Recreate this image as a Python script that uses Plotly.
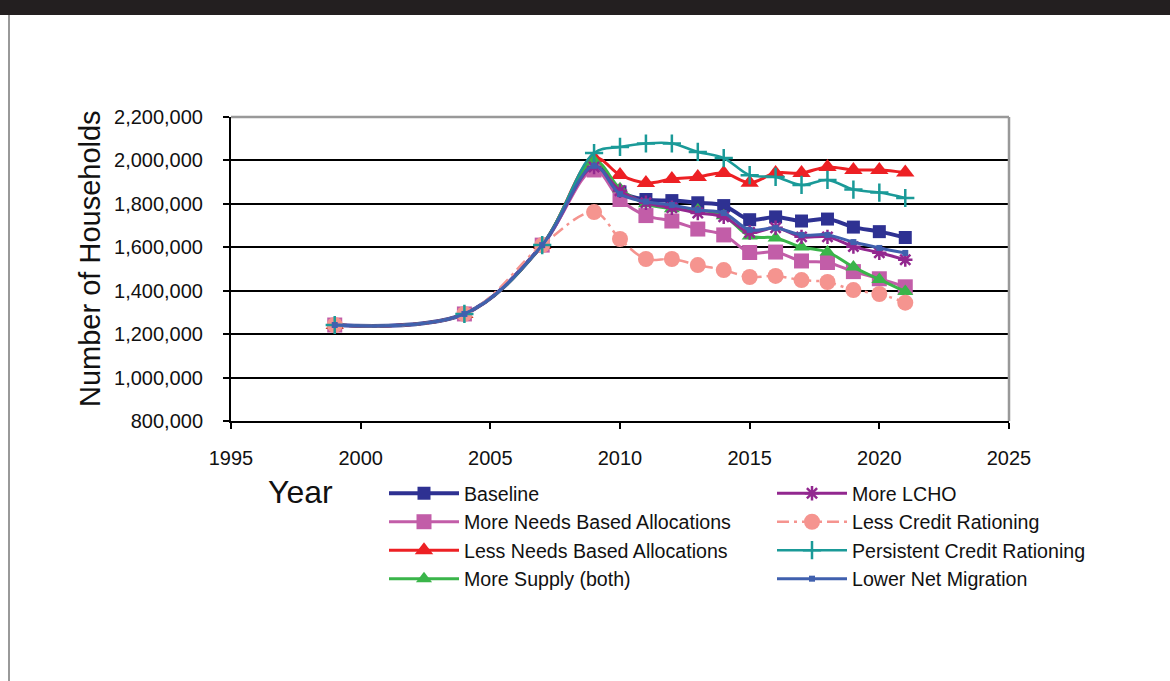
import plotly.graph_objects as go

years = [1999, 2004, 2007, 2009, 2010, 2011, 2012, 2013, 2014, 2015, 2016, 2017, 2018, 2019, 2020, 2021]

baseline = [1242000, 1293000, 1610000, 1980000, 1855000, 1820000, 1815000, 1805000, 1792000, 1727000,
            1740000, 1721000, 1730000, 1693000, 1672000, 1645000]
more_needs = [1242000, 1293000, 1610000, 1956000, 1820000, 1746000, 1721000, 1684000, 1657000, 1576000,
              1578000, 1537000, 1530000, 1488000, 1455000, 1418000]
less_needs = [1242000, 1293000, 1610000, 2011000, 1933000, 1896000, 1914000, 1924000, 1942000, 1897000,
              1942000, 1942000, 1970000, 1956000, 1956000, 1944000]
more_supply = [1242000, 1293000, 1610000, 1998000, 1870000, 1800000, 1778000, 1772000, 1745000, 1652000,
               1643000, 1601000, 1578000, 1509000, 1452000, 1396000]
more_lcho = [1242000, 1293000, 1610000, 1970000, 1860000, 1805000, 1782000, 1758000, 1740000, 1668000,
             1690000, 1648000, 1648000, 1603000, 1575000, 1543000]
less_credit = [1242000, 1293000, 1610000, 1762000, 1638000, 1546000, 1546000, 1518000, 1495000, 1463000,
               1468000, 1449000, 1440000, 1403000, 1385000, 1345000]
persistent = [1242000, 1293000, 1610000, 2034000, 2062000, 2078000, 2078000, 2039000, 2011000, 1932000,
              1924000, 1887000, 1910000, 1866000, 1852000, 1827000]
lower_net = [1242000, 1293000, 1610000, 1975000, 1845000, 1810000, 1795000, 1772000, 1758000, 1680000,
             1689000, 1657000, 1657000, 1624000, 1597000, 1574000]

FONT = "Liberation Sans, Arial, sans-serif"

series = [
    # name, values, color, symbol, size, line width, dash, legend
    ("Baseline", baseline, "#2E3192", "square", 13, 4, "solid", "legend"),
    ("More Needs Based Allocations", more_needs, "#C25DA8", "square", 15, 3, "solid", "legend"),
    ("Less Needs Based Allocations", less_needs, "#ED2024", "triangle-up", 16, 3, "solid", "legend"),
    ("More Supply (both)", more_supply, "#3AB54A", "triangle-up", 14, 3, "solid", "legend"),
    ("More LCHO", more_lcho, "#92278F", "asterisk-open", 12, 3, "solid", "legend2"),
    ("Less Credit Rationing", less_credit, "#F5948F", "circle", 16, 2.5, "12px,5px,3px,5px", "legend2"),
    ("Persistent Credit Rationing", persistent, "#1A9A98", "cross-thin-open", 13, 2.5, "solid", "legend2"),
    ("Lower Net Migration", lower_net, "#4060AE", "square", 6, 3, "solid", "legend2"),
]

fig = go.Figure()
for i, (name, vals, color, sym, size, lw, dash, leg) in enumerate(series):
    marker = dict(symbol=sym, size=size, color=color)
    if sym.endswith("-open"):
        marker["line"] = dict(width=2.5, color=color)
    fig.add_trace(go.Scatter(
        x=years, y=vals, name=name, mode="lines+markers",
        line=dict(color=color, width=lw, shape="spline", smoothing=1, dash=dash),
        marker=marker, legend=leg, legendgroup="g%d" % i,
    ))

W, H = 1170, 681
L, R, T, B = 231, 161, 117, 260
pw, ph = W - L - R, H - T - B

def px(x):
    return (x - L) / pw

def py(y):
    return (H - B - y) / ph

legend_common = dict(
    orientation="v", xanchor="left", yanchor="top",
    bgcolor="rgba(0,0,0,0)", font=dict(family=FONT, size=19.6, color="#111111"),
    itemwidth=70, traceorder="normal", tracegroupgap=2.8,
)

fig.update_layout(
    width=W, height=H,
    margin=dict(l=L, r=R, t=T, b=B, autoexpand=False),
    paper_bgcolor="white", plot_bgcolor="white",
    font=dict(family=FONT, color="#111111"),
    showlegend=True,
    legend=dict(x=px(384), y=py(474), **legend_common),
    legend2=dict(x=px(772), y=py(474), **legend_common),
    xaxis=dict(
        range=[1995, 2025], dtick=5, tick0=1995, showgrid=False,
        showline=True, linecolor="black", linewidth=2,
        ticks="outside", ticklen=6, tickwidth=2, tickcolor="black",
        tickfont=dict(family=FONT, size=20, color="#111111"),
        ticklabelstandoff=12,
        zeroline=False,
    ),
    yaxis=dict(
        range=[800000, 2200000], dtick=200000, tick0=800000, tickformat=",d",
        showgrid=True, gridcolor="black", gridwidth=2,
        showline=True, linecolor="black", linewidth=2,
        ticks="outside", ticklen=6, tickwidth=2, tickcolor="black",
        tickfont=dict(family=FONT, size=20, color="#111111"),
        ticklabelstandoff=16,
        zeroline=False,
    ),
    annotations=[
        dict(text="Year", x=px(300), y=py(492), xref="paper", yref="paper",
             showarrow=False, xanchor="center", yanchor="middle",
             font=dict(family=FONT, size=32, color="#111111")),
        dict(text="Number of Households", x=px(90), y=py(259), xref="paper", yref="paper",
             showarrow=False, xanchor="center", yanchor="middle", textangle=-90,
             font=dict(family=FONT, size=29, color="#111111")),
    ],
    shapes=[
        dict(type="rect", xref="paper", yref="paper", x0=px(-5), x1=px(W + 5), y0=py(15), y1=py(-5),
             fillcolor="#231F20", line=dict(width=0), layer="above"),
        dict(type="line", xref="paper", yref="paper", x0=px(9), x1=px(9), y0=py(15), y1=py(H + 5),
             line=dict(color="#777777", width=1.5), layer="above"),
        dict(type="line", xref="paper", yref="paper", x0=0, x1=1, y0=1, y1=1,
             line=dict(color="#999999", width=2.5), layer="above"),
        dict(type="line", xref="paper", yref="paper", x0=1, x1=1, y0=0, y1=1,
             line=dict(color="#999999", width=2.5), layer="above"),
    ],
)

fig.write_html("out.html", config={"displayModeBar": False},
               post_script="document.body.style.margin='0';document.body.style.overflow='hidden';")
